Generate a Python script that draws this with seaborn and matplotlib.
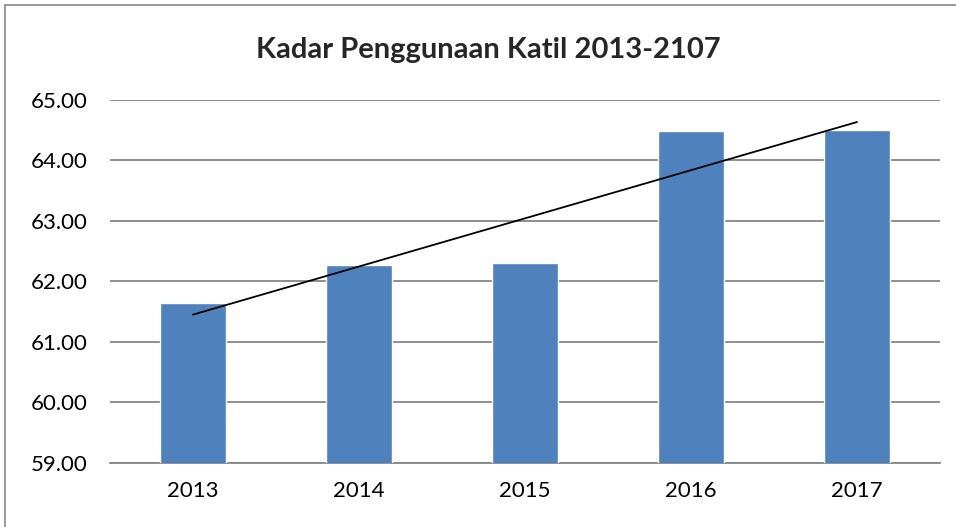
import numpy as np
import pandas as pd
import matplotlib
matplotlib.use("Agg")
import matplotlib.pyplot as plt
import seaborn as sns
from matplotlib.lines import Line2D

# Data
years = ["2013", "2014", "2015", "2016", "2017"]
rates = [61.64, 62.27, 62.31, 64.49, 64.51]
y_ticks = [59, 60, 61, 62, 63, 64, 65]
title = "Kadar Penggunaan Katil 2013-2107"

sns.set_theme(style="white")
plt.rcParams["font.family"] = ["Lato", "DejaVu Sans"]

df = pd.DataFrame({"Tahun": years, "Kadar": rates})

fig = plt.figure(figsize=(9.56, 5.27), dpi=100)
ax = fig.add_axes([110 / 956, 1 - 463 / 527, 830 / 956, 363 / 527])

sns.barplot(data=df, x="Tahun", y="Kadar", color="#4F81BD", width=0.4,
            saturation=1, ax=ax, zorder=3)

# Linear trend line through the bars
xs = np.arange(len(years))
coef = np.polyfit(xs, rates, 1)
ax.plot(xs, np.polyval(coef, xs), color="black", lw=1.3, zorder=4)

ax.set_ylim(59, 65)
ax.set_xlim(-0.5, len(years) - 0.5)
ax.set_yticks(y_ticks)
ax.set_yticklabels([f"{v:.2f}" for v in y_ticks])
ax.yaxis.grid(True, color="#868686", lw=1.3, zorder=0)
ax.set_axisbelow(True)
for s in ["left", "right", "top"]:
    ax.spines[s].set_visible(False)
ax.spines["bottom"].set_color("#868686")
ax.spines["bottom"].set_linewidth(1.3)
ax.tick_params(axis="both", length=0, labelsize=16, colors="black")
ax.tick_params(axis="y", pad=16)
ax.tick_params(axis="x", pad=13)
ax.set_xlabel("")
ax.set_ylabel("")

fig.text(488 / 956, 1 - 50 / 527, title, ha="center", va="center",
         fontsize=21, fontweight="bold")

# Outer chart frame (left and top edges visible)
fig.add_artist(Line2D([5 / 956, 5 / 956], [0, 1 - 5 / 527], color="#868686", lw=1.2))
fig.add_artist(Line2D([5 / 956, 1], [1 - 5 / 527, 1 - 5 / 527], color="#868686", lw=1.2))

fig.savefig("out.png", dpi=100)
